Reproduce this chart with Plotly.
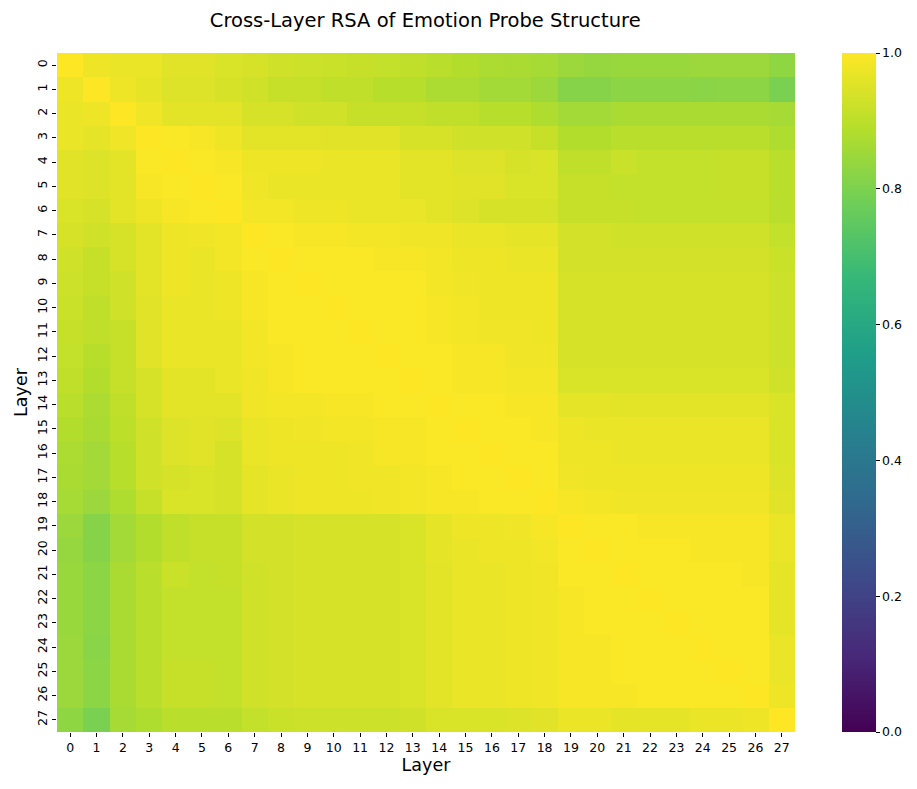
import plotly.graph_objects as go

# layer indices (both axes)
layers = list(range(28))

# RSA similarity between layer probe structures
rsa = [
    [1.00, 0.975, 0.97, 0.97, 0.955, 0.955, 0.945, 0.94, 0.93, 0.925, 0.92, 0.915, 0.91, 0.905, 0.895, 0.885, 0.875, 0.87, 0.865, 0.85, 0.84, 0.845, 0.845, 0.845, 0.85, 0.85, 0.85, 0.83],
    [0.975, 1.00, 0.975, 0.965, 0.95, 0.95, 0.94, 0.93, 0.915, 0.915, 0.905, 0.905, 0.89, 0.89, 0.875, 0.875, 0.86, 0.86, 0.85, 0.815, 0.815, 0.825, 0.825, 0.825, 0.82, 0.825, 0.825, 0.795],
    [0.97, 0.975, 1.00, 0.98, 0.96, 0.96, 0.96, 0.94, 0.94, 0.93, 0.93, 0.915, 0.915, 0.915, 0.905, 0.905, 0.89, 0.89, 0.88, 0.86, 0.86, 0.87, 0.87, 0.87, 0.87, 0.87, 0.87, 0.865],
    [0.97, 0.965, 0.98, 1.00, 0.995, 0.99, 0.975, 0.96, 0.96, 0.96, 0.955, 0.955, 0.955, 0.94, 0.94, 0.93, 0.93, 0.93, 0.915, 0.885, 0.885, 0.895, 0.895, 0.895, 0.895, 0.895, 0.895, 0.88],
    [0.955, 0.95, 0.96, 0.995, 1.00, 0.995, 0.99, 0.975, 0.975, 0.975, 0.97, 0.97, 0.97, 0.96, 0.96, 0.95, 0.95, 0.94, 0.945, 0.905, 0.905, 0.92, 0.91, 0.91, 0.91, 0.915, 0.915, 0.895],
    [0.955, 0.95, 0.96, 0.99, 0.995, 1.00, 0.995, 0.98, 0.97, 0.97, 0.97, 0.97, 0.97, 0.96, 0.96, 0.955, 0.955, 0.945, 0.945, 0.915, 0.915, 0.91, 0.91, 0.91, 0.91, 0.915, 0.915, 0.895],
    [0.945, 0.94, 0.96, 0.975, 0.99, 0.995, 1.00, 0.985, 0.985, 0.975, 0.975, 0.97, 0.97, 0.97, 0.96, 0.95, 0.94, 0.94, 0.94, 0.915, 0.915, 0.915, 0.91, 0.91, 0.91, 0.91, 0.91, 0.895],
    [0.94, 0.93, 0.94, 0.96, 0.975, 0.98, 0.985, 1.00, 0.995, 0.99, 0.99, 0.985, 0.985, 0.98, 0.98, 0.97, 0.97, 0.965, 0.965, 0.935, 0.935, 0.93, 0.93, 0.93, 0.93, 0.93, 0.93, 0.91],
    [0.93, 0.915, 0.94, 0.96, 0.975, 0.97, 0.985, 0.995, 1.00, 0.995, 0.995, 0.995, 0.99, 0.99, 0.985, 0.975, 0.975, 0.97, 0.97, 0.935, 0.935, 0.935, 0.935, 0.935, 0.935, 0.935, 0.935, 0.92],
    [0.925, 0.915, 0.93, 0.96, 0.975, 0.97, 0.975, 0.99, 0.995, 1.00, 0.995, 0.995, 0.995, 0.995, 0.985, 0.98, 0.975, 0.975, 0.975, 0.94, 0.94, 0.94, 0.94, 0.94, 0.94, 0.94, 0.94, 0.925],
    [0.92, 0.905, 0.93, 0.955, 0.97, 0.97, 0.975, 0.99, 0.995, 0.995, 1.00, 0.995, 0.995, 0.995, 0.99, 0.985, 0.975, 0.975, 0.975, 0.94, 0.94, 0.94, 0.94, 0.94, 0.94, 0.94, 0.94, 0.925],
    [0.915, 0.905, 0.915, 0.955, 0.97, 0.97, 0.97, 0.985, 0.995, 0.995, 0.995, 1.00, 0.995, 0.995, 0.99, 0.985, 0.98, 0.98, 0.975, 0.94, 0.94, 0.94, 0.94, 0.94, 0.94, 0.94, 0.94, 0.925],
    [0.91, 0.89, 0.915, 0.955, 0.97, 0.97, 0.97, 0.985, 0.99, 0.995, 0.995, 0.995, 1.00, 0.995, 0.995, 0.99, 0.99, 0.98, 0.98, 0.94, 0.94, 0.94, 0.94, 0.94, 0.94, 0.94, 0.94, 0.925],
    [0.905, 0.885, 0.915, 0.94, 0.96, 0.96, 0.97, 0.98, 0.99, 0.995, 0.995, 0.995, 0.995, 1.00, 0.995, 0.99, 0.99, 0.985, 0.985, 0.945, 0.945, 0.945, 0.945, 0.945, 0.945, 0.945, 0.945, 0.93],
    [0.895, 0.875, 0.905, 0.94, 0.96, 0.96, 0.96, 0.98, 0.985, 0.985, 0.99, 0.99, 0.995, 0.995, 1.00, 0.995, 0.995, 0.99, 0.99, 0.965, 0.965, 0.96, 0.96, 0.96, 0.96, 0.96, 0.96, 0.945],
    [0.885, 0.87, 0.90, 0.93, 0.95, 0.955, 0.95, 0.97, 0.975, 0.98, 0.985, 0.985, 0.99, 0.99, 0.995, 1.00, 0.995, 0.995, 0.99, 0.975, 0.97, 0.97, 0.97, 0.97, 0.97, 0.97, 0.97, 0.945],
    [0.875, 0.86, 0.89, 0.93, 0.95, 0.955, 0.94, 0.97, 0.975, 0.975, 0.975, 0.98, 0.99, 0.99, 0.995, 0.995, 1.00, 0.995, 0.995, 0.975, 0.975, 0.97, 0.97, 0.97, 0.97, 0.97, 0.97, 0.945],
    [0.87, 0.86, 0.89, 0.93, 0.94, 0.945, 0.94, 0.965, 0.97, 0.975, 0.975, 0.98, 0.98, 0.985, 0.99, 0.995, 0.995, 1.00, 0.995, 0.98, 0.975, 0.975, 0.975, 0.975, 0.975, 0.975, 0.975, 0.95],
    [0.865, 0.85, 0.88, 0.915, 0.945, 0.945, 0.94, 0.965, 0.97, 0.975, 0.975, 0.975, 0.98, 0.985, 0.99, 0.99, 0.995, 0.995, 1.00, 0.99, 0.985, 0.98, 0.98, 0.98, 0.98, 0.98, 0.98, 0.955],
    [0.85, 0.815, 0.86, 0.885, 0.905, 0.915, 0.915, 0.935, 0.935, 0.94, 0.94, 0.94, 0.94, 0.945, 0.965, 0.975, 0.975, 0.98, 0.99, 1.00, 0.995, 0.995, 0.99, 0.99, 0.99, 0.99, 0.99, 0.97],
    [0.84, 0.815, 0.86, 0.885, 0.905, 0.915, 0.915, 0.935, 0.935, 0.94, 0.94, 0.94, 0.94, 0.945, 0.965, 0.97, 0.975, 0.975, 0.985, 0.995, 1.00, 0.995, 0.995, 0.995, 0.99, 0.99, 0.99, 0.97],
    [0.845, 0.825, 0.87, 0.895, 0.92, 0.91, 0.915, 0.93, 0.935, 0.94, 0.94, 0.94, 0.94, 0.945, 0.96, 0.97, 0.97, 0.975, 0.98, 0.995, 0.995, 1.00, 0.995, 0.995, 0.995, 0.995, 0.99, 0.965],
    [0.845, 0.825, 0.87, 0.895, 0.91, 0.91, 0.91, 0.93, 0.935, 0.94, 0.94, 0.94, 0.94, 0.945, 0.96, 0.97, 0.97, 0.975, 0.98, 0.99, 0.995, 0.995, 1.00, 0.995, 0.995, 0.995, 0.995, 0.965],
    [0.845, 0.825, 0.87, 0.895, 0.91, 0.91, 0.91, 0.93, 0.935, 0.94, 0.94, 0.94, 0.94, 0.945, 0.96, 0.97, 0.97, 0.975, 0.98, 0.99, 0.995, 0.995, 0.995, 1.00, 0.995, 0.995, 0.995, 0.965],
    [0.85, 0.82, 0.87, 0.895, 0.91, 0.91, 0.91, 0.93, 0.935, 0.94, 0.94, 0.94, 0.94, 0.945, 0.96, 0.97, 0.97, 0.975, 0.98, 0.99, 0.99, 0.995, 0.995, 0.995, 1.00, 0.995, 0.995, 0.97],
    [0.85, 0.825, 0.87, 0.895, 0.915, 0.915, 0.91, 0.93, 0.935, 0.94, 0.94, 0.94, 0.94, 0.945, 0.96, 0.97, 0.97, 0.975, 0.98, 0.99, 0.99, 0.995, 0.995, 0.995, 0.995, 1.00, 0.995, 0.97],
    [0.85, 0.825, 0.87, 0.895, 0.915, 0.915, 0.91, 0.93, 0.935, 0.94, 0.94, 0.94, 0.94, 0.945, 0.96, 0.97, 0.97, 0.975, 0.98, 0.99, 0.99, 0.99, 0.995, 0.995, 0.995, 0.995, 1.00, 0.975],
    [0.83, 0.795, 0.865, 0.88, 0.895, 0.895, 0.895, 0.91, 0.92, 0.925, 0.925, 0.925, 0.925, 0.93, 0.945, 0.945, 0.945, 0.95, 0.955, 0.97, 0.97, 0.965, 0.965, 0.965, 0.97, 0.97, 0.975, 1.00],
]

cbar_ticks = [0.0, 0.2, 0.4, 0.6, 0.8, 1.0]

# the page adds an 8px body margin, so the figure is 8px smaller than the window
fig = go.Figure(go.Heatmap(
    z=rsa, x=layers, y=layers,
    colorscale="Viridis", zmin=0, zmax=1,
    colorbar=dict(
        x=1.0637, xanchor="left", xref="paper",
        y=0.5, yanchor="middle", len=1.0, lenmode="fraction", ypad=0, xpad=0,
        thickness=34, outlinewidth=0,
        tickvals=cbar_ticks, tickformat=".1f",
        ticks="outside", ticklen=4, tickcolor="black",
        tickfont=dict(size=12.5, color="black"),
    ),
))

fig.update_layout(
    width=909, height=781,
    margin=dict(l=49, r=122, t=45, b=57, autoexpand=False),
    plot_bgcolor="white", paper_bgcolor="white",
    font=dict(family="DejaVu Sans", color="black"),
    title=dict(text="Cross-Layer RSA of Emotion Probe Structure",
               x=0.459, xanchor="center", y=0.9845, yanchor="middle",
               font=dict(size=19.5, color="black")),
)

fig.update_xaxes(
    title=dict(text="Layer", font=dict(size=17.5), standoff=2),
    tickmode="array", tickvals=layers, ticktext=[str(v) for v in layers],
    ticks="outside", ticklen=4, tickcolor="black", tickangle=0,
    tickfont=dict(size=12.5), showgrid=False, zeroline=False, showline=False,
    range=[-0.5, 27.5],
)
fig.update_yaxes(
    title=dict(text="Layer", font=dict(size=17.5), standoff=2),
    tickmode="array", tickvals=layers, ticktext=[str(v) for v in layers],
    ticks="outside", ticklen=4, tickcolor="black", tickangle=-90,
    tickfont=dict(size=12.5), showgrid=False, zeroline=False, showline=False,
    range=[27.5, -0.5],
)

fig.write_html("out.html")
